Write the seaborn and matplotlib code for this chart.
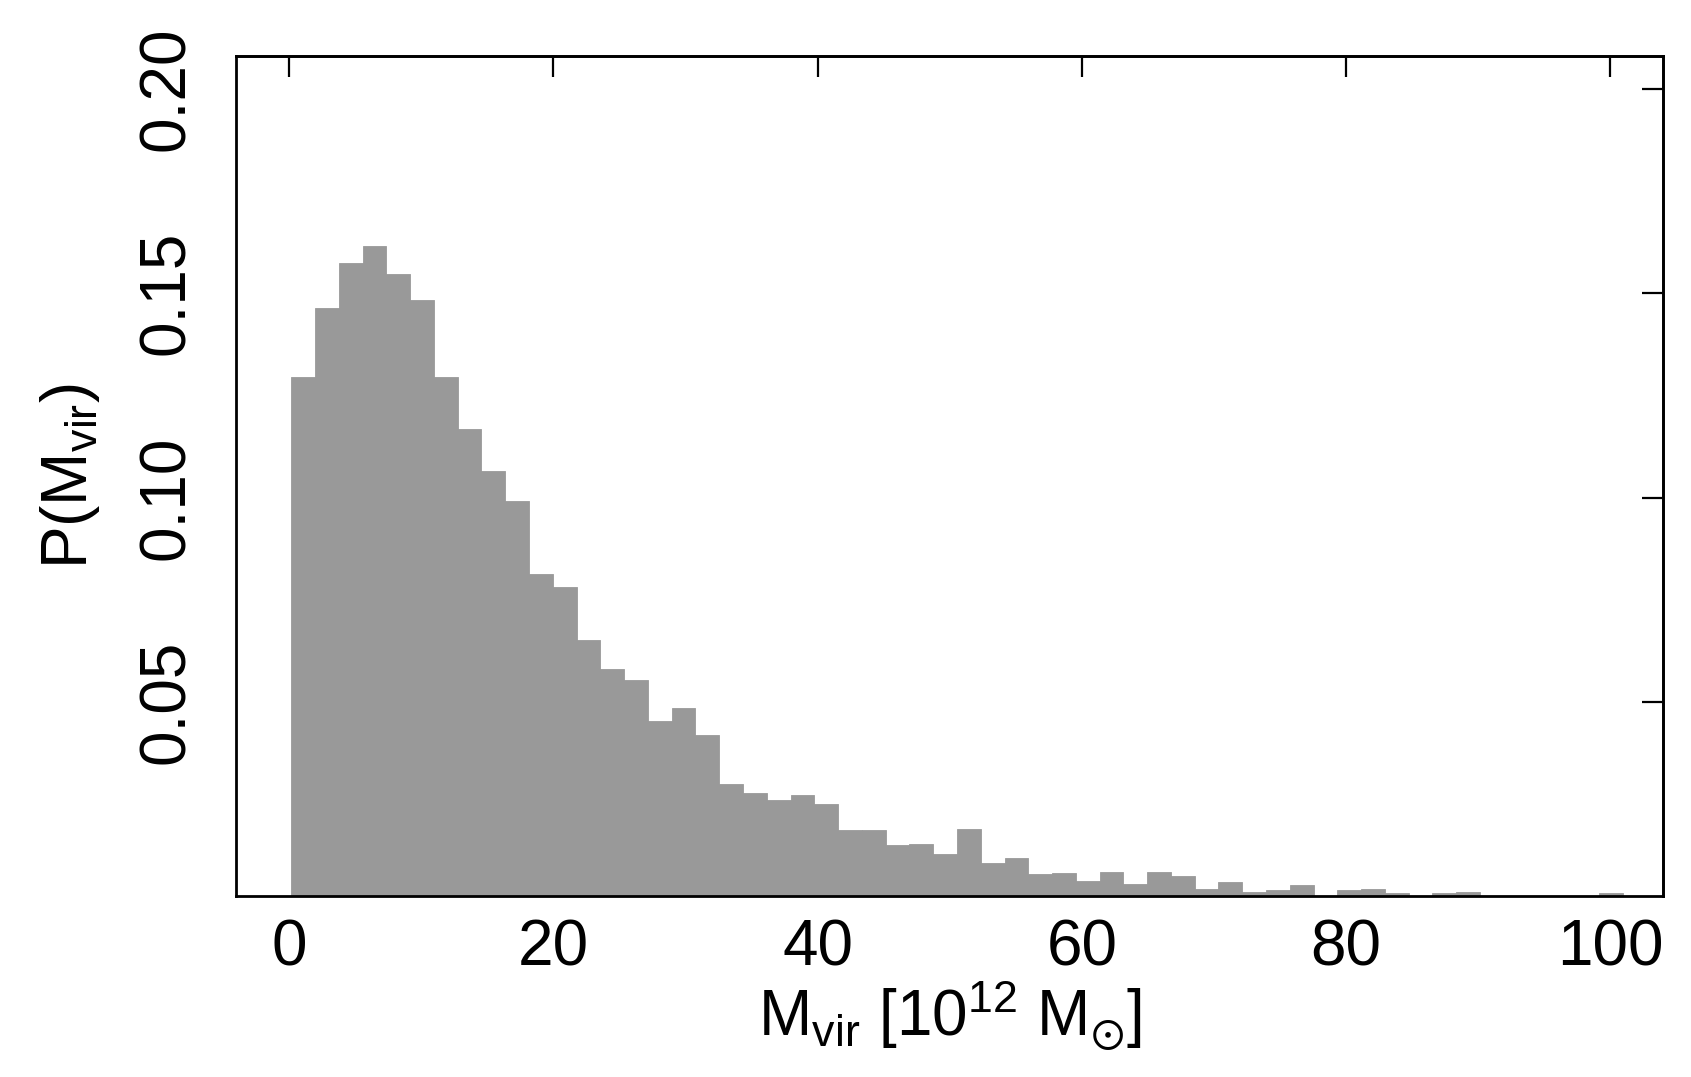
import numpy as np
import pandas as pd
import seaborn as sns
from matplotlib import pyplot as plt

# histogram of halo virial masses, heights (56 bins of width 1.8)
bin_start = 0.15
bin_width = 1.8
p_mvir = [
    0.1296, 0.1464, 0.1575, 0.1616, 0.1546, 0.1484, 0.1296, 0.1169,
    0.1065, 0.0991, 0.0814, 0.0781, 0.0652, 0.0581, 0.0554, 0.0454,
    0.0486, 0.0419, 0.0299, 0.0278, 0.0260, 0.0273, 0.0251, 0.0187,
    0.0187, 0.0150, 0.0153, 0.0128, 0.0190, 0.0106, 0.0119, 0.0080,
    0.0082, 0.0062, 0.0084, 0.0055, 0.0084, 0.0074, 0.0043, 0.0061,
    0.0036, 0.0041, 0.0053, 0.0020, 0.0041, 0.0044, 0.0034, 0.0015,
    0.0034, 0.0036, 0.0010, 0.0010, 0.0005, 0.0005, 0.0005, 0.0033,
]
x_ticks = [0, 20, 40, 60, 80, 100]
y_ticks = [0.05, 0.10, 0.15, 0.20]
y_tick_labels = ["0.05", "0.10", "0.15", "0.20"]

edges = bin_start + bin_width * np.arange(len(p_mvir) + 1)
df = pd.DataFrame({
    "mass": (edges[:-1] + edges[1:]) / 2,
    "p": p_mvir,
})

sns.set_style("white")
plt.rcParams['font.family'] = ['Liberation Sans', 'DejaVu Sans']
plt.rcParams['mathtext.fontset'] = 'custom'
plt.rcParams['mathtext.rm'] = 'Liberation Sans'
plt.rcParams['mathtext.it'] = 'Liberation Sans'
plt.rcParams['mathtext.sf'] = 'DejaVu Sans'
plt.rcParams['text.color'] = 'black'
plt.rcParams['axes.labelcolor'] = 'black'
plt.rcParams['xtick.color'] = 'black'
plt.rcParams['ytick.color'] = 'black'

fig = plt.figure(figsize=(16.91, 10.77), dpi=100)
ax = fig.add_axes([0.1396, 0.168, 0.8438, 0.780])

sns.histplot(data=df, x="mass", weights="p", bins=list(edges), stat="count",
             color="#999999", alpha=1, edgecolor="#999999", linewidth=0.6, ax=ax)

ax.set_xlim(-4.03, 104.0)
ax.set_ylim(0.0026, 0.208)

for s in ax.spines.values():
    s.set_visible(True)
    s.set_linewidth(2.0)
    s.set_color("black")

ax.set_xticks(x_ticks)
ax.set_xticklabels([str(t) for t in x_ticks])
ax.set_yticks(y_ticks)
ax.set_yticklabels(y_tick_labels, rotation=90, va="center")
ax.tick_params(axis="both", which="major", direction="inout", length=32, width=1.6,
               labelsize=46, colors="black")
ax.tick_params(axis="x", pad=0)
ax.tick_params(axis="y", pad=12)

# inward ticks on the top and right sides, no labels
top = ax.secondary_xaxis("top")
top.set_xticks(x_ticks)
top.tick_params(direction="in", length=15, width=1.6, labeltop=False, colors="black")
top.spines["top"].set_linewidth(2.0)
right = ax.secondary_yaxis("right")
right.set_yticks(y_ticks)
right.tick_params(direction="in", length=15, width=1.6, labelright=False, colors="black")
right.spines["right"].set_linewidth(2.0)

ax.set_xlabel("M$_{\\mathrm{vir}}$ [10$^{12}$ M$_{\u2299}$]", fontsize=46)
ax.set_ylabel(r"P(M$_{\mathrm{vir}}$)", fontsize=46)
ax.xaxis.set_label_coords(0.5, -0.097)
ax.yaxis.set_label_coords(-0.094, 0.5)

fig.savefig("out.png", dpi=100)
